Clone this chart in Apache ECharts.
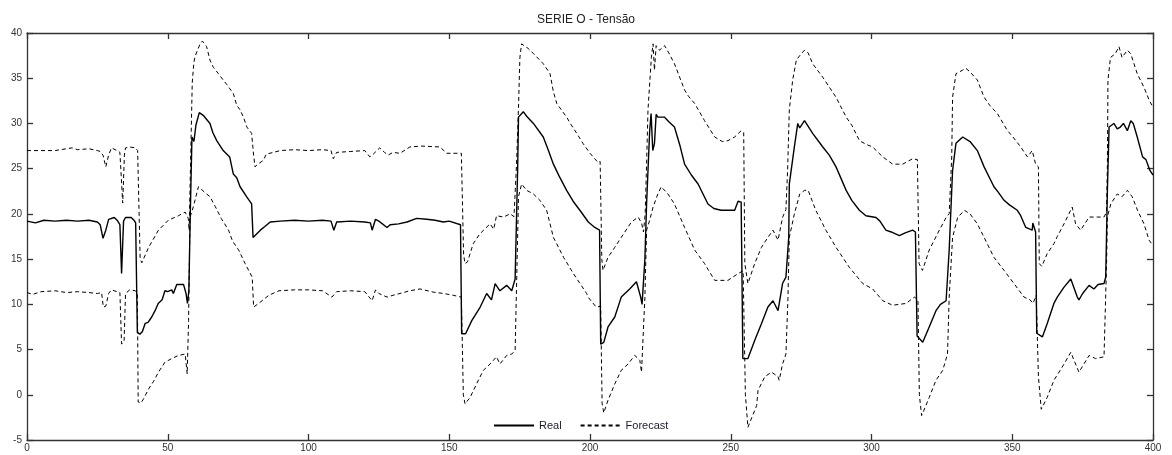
<!DOCTYPE html>
<html>
<head>
<meta charset="utf-8">
<script src="https://cdn.jsdelivr.net/npm/echarts@6/dist/echarts.min.js"></script>
<style>
html,body{margin:0;padding:0;background:#fff;}
#chart{width:1172px;height:455px;}
</style>
</head>
<body>
<div id="chart"></div>
<script>
const title = 'SERIE O - Tensão';
const legendLabels = ['Real', 'Forecast'];
const xTicks = {min: 0, max: 400, interval: 50};
const yTicks = {min: -5, max: 40, interval: 5};

const real = [[0,19.2],[3,19.0],[6,19.3],[10,19.2],[14,19.3],[18,19.2],[22,19.3],[25,19.1],[26,18.8],[27,17.3],[28,18.2],[29,19.4],[31,19.6],[32,19.3],[33,18.8],[33.6,13.4],[34.3,19.2],[35,19.6],[37,19.6],[38,19.3],[38.6,19.0],[39.2,6.9],[40.1,6.7],[41,7.0],[42,7.9],[43,8.0],[44.3,8.6],[45.5,9.3],[46.6,10.1],[48,10.5],[49,11.5],[50,11.4],[51.4,11.6],[52,11.2],[53.2,12.2],[55.6,12.2],[56.5,11.2],[57,10.1],[57.5,11.5],[58,20],[58.6,28.5],[59.3,28.0],[60,29.8],[61.2,31.2],[62.6,30.9],[65,30.0],[66,29.0],[67.4,28.1],[69.7,27.0],[72,26.3],[73.3,24.4],[74.5,24.0],[75.7,23.0],[78,21.9],[79.8,21.1],[80.3,17.4],[81,17.2],[82.9,18.2],[84.5,18.6],[86.4,19.1],[90,19.2],[95,19.3],[100,19.2],[105,19.3],[108,19.2],[109,18.2],[110,19.1],[115,19.2],[120,19.1],[122,19.0],[122.6,18.2],[123.8,19.4],[125,19.2],[127.9,18.5],[129,18.8],[132,18.9],[135,19.1],[138.4,19.5],[142,19.4],[145,19.3],[147.9,19.1],[150,19.2],[154,18.8],[154.4,6.75],[155.8,6.75],[158,8.2],[161,9.7],[163.3,11.2],[165,10.5],[166.3,12.3],[168,11.5],[170.4,12.1],[172.2,11.5],[173.4,12.8],[174.3,25],[174.6,30.7],[176.3,31.3],[177.5,30.8],[179.9,30.0],[183.4,28.5],[185,27.2],[187,25.5],[189,24.2],[191.7,22.6],[194,21.4],[196.4,20.4],[199.4,19.1],[201.7,18.5],[203.4,18.2],[203.8,5.6],[204.9,5.8],[206.4,7.5],[208.8,8.6],[211.1,10.8],[214.1,11.7],[216.5,12.5],[218,10.8],[218.5,10.0],[219.5,15],[220.1,21.1],[221.2,29.2],[221.7,31.1],[222.3,27.0],[222.9,27.8],[223.5,31.0],[224.1,30.7],[226.4,30.7],[228,30.2],[230,29.6],[232,27.5],[233.6,25.5],[236,24.3],[238.4,23.3],[241.9,21.1],[244,20.6],[246.6,20.4],[251.4,20.4],[252.6,21.4],[253.7,21.3],[254.3,4.0],[256.1,4.0],[258.5,6.0],[260.9,7.85],[263.2,9.7],[265,10.4],[266.8,9.3],[267.2,9.3],[268.4,12.3],[269.6,13.0],[270.6,17.4],[270.8,23.3],[272.6,27.4],[273.8,30.0],[274.5,29.5],[276.2,30.3],[279.1,28.9],[282.7,27.4],[285,26.5],[287.4,25.2],[291,22.6],[293,21.5],[295.7,20.4],[298,19.8],[301.6,19.6],[303,19.2],[305.1,18.2],[307,18.0],[309.9,17.6],[312,17.9],[314.6,18.2],[315.6,18.0],[316.2,6.5],[318.2,5.8],[320.5,7.5],[322.9,9.3],[324.5,10.0],[326.5,10.4],[327.6,16],[328.8,24.8],[330,27.8],[332.4,28.5],[335,28.0],[337.6,27.0],[340,25.2],[343.5,23.0],[345,22.4],[347.1,21.5],[349,21.0],[351.8,20.4],[353,19.8],[354.8,18.5],[357.1,18.2],[357.3,19.0],[358.3,18.0],[358.7,6.8],[360.7,6.4],[362.4,7.85],[364.8,10.1],[366,10.8],[368.4,11.9],[370.8,12.8],[373.1,10.8],[373.7,10.5],[375,11.2],[377.3,12.1],[379,11.7],[380.5,12.2],[382.6,12.3],[383.2,13],[383.8,22.6],[384.4,29.6],[386.1,30.0],[387.3,29.4],[388.4,29.6],[389.5,30.0],[390.9,29.2],[392.1,30.3],[393,30.0],[394.4,28.5],[396.3,26.3],[397.5,26.0],[398.9,24.8],[400,24.3]];

const forecastUpper = [[0,27.0],[5,27.0],[10,27.0],[16,27.3],[18,27.1],[22,27.2],[25,27.0],[26,26.9],[27,26.5],[28,25.2],[29,26.5],[30,27.3],[32,27.0],[33,26.8],[34,21.2],[34.6,26.5],[35,27.3],[36.5,27.4],[38.5,27.3],[39.3,27.0],[40.2,15.0],[40.8,14.6],[43.2,16.3],[46.7,18.2],[50.2,19.3],[53.8,19.8],[56.2,20.2],[57.3,19.5],[57.6,18.2],[58.2,27],[58.7,34.5],[59.3,36.8],[59.8,37.5],[60.3,37.3],[61.5,38.8],[62.3,39.1],[63.8,38.5],[65,37.0],[66.2,36.2],[68,35.5],[69.7,34.8],[71,34.3],[73.3,33.3],[74.5,32.0],[75.7,31.5],[77,30.6],[78.1,29.6],[79.8,28.9],[80.5,26.5],[81,25.2],[82,25.5],[83.9,25.9],[85,26.6],[87.5,26.8],[90,27.0],[95,27.1],[100,27.0],[105,27.1],[108,27.0],[108.8,26.1],[110,26.8],[115,26.9],[120,27.0],[121.8,26.3],[123,26.6],[125.3,27.3],[127,26.8],[128.3,26.5],[130,26.8],[132.5,26.7],[136,27.4],[140,27.5],[146.7,27.4],[149.1,26.7],[154.3,26.7],[155.1,15.5],[155.6,14.5],[156.5,14.7],[158.5,16.7],[160.9,17.8],[164.5,18.9],[165.8,18.3],[166.8,19.8],[169.3,19.65],[171.6,20.0],[173,19.7],[173.9,25.5],[174.6,31.8],[175.1,37.3],[175.7,38.8],[176.3,39.0],[178,38.3],[180,37.7],[183.4,36.6],[185.8,35.5],[187,33.5],[188.2,32.2],[191.7,30.7],[193,30.0],[195.3,28.9],[197.5,27.8],[200,26.7],[202.8,25.7],[203.6,25.8],[204.2,15],[204.6,13.75],[206.4,15.2],[208.8,16.3],[211.1,17.4],[214.7,19.1],[217.1,19.65],[218.3,19.0],[219,18.0],[219.6,20],[220.1,25.5],[220.6,31.5],[221.8,37.3],[222.4,38.8],[222.9,35.9],[223.5,38.6],[224.7,38.1],[226.5,38.6],[228,37.8],[230,36.6],[233.6,33.7],[235,33.0],[237.2,32.2],[240.7,30.3],[244.3,28.5],[247,28.0],[249,28.1],[251.4,28.5],[253.7,29.2],[254.6,29.0],[255,14.5],[256.1,12.3],[258.5,14.5],[260.9,16.3],[263.2,17.4],[265,18.2],[266.8,17.1],[267.5,17.1],[268.4,19.6],[269.6,20.5],[270.2,24.8],[270.8,31.5],[272,34.8],[273.3,37.0],[274.5,37.5],[276.2,38.1],[277.5,37.8],[279.1,36.6],[282.7,35.1],[287.4,32.9],[291,30.7],[293,29.8],[295.7,28.1],[298,27.7],[300.4,27.4],[304,26.3],[307.5,25.5],[311.1,25.5],[314.6,26.1],[316.3,26.0],[316.9,14.5],[318.1,13.75],[320.5,16.0],[324.1,18.2],[326.5,19.6],[327.6,20.0],[328.5,26.3],[328.8,32.9],[330,35.5],[332.4,35.9],[333.5,36.1],[335,35.7],[337.6,34.8],[340,32.9],[342,32.0],[344.7,31.1],[348.3,29.2],[350,28.6],[353,27.4],[355.4,26.3],[357.1,27.0],[358.3,25.5],[359.3,25.2],[359.6,14.5],[360.5,14.2],[362.4,15.6],[364.8,16.7],[366,17.5],[368.4,18.9],[371.3,20.75],[372.5,18.9],[374.3,18.2],[377.3,19.65],[380.2,19.65],[382.6,19.65],[383.5,20.2],[383.8,25.5],[384,34.8],[384.9,37.3],[386.6,37.7],[387.9,38.5],[389,37.3],[390.9,38.1],[392.1,37.7],[394.4,35.5],[396.8,34.0],[398.6,32.6],[400,31.8]];

const forecastLower = [[0,11.3],[2,11.1],[5,11.4],[10,11.5],[14,11.3],[18,11.4],[22,11.3],[25,11.2],[26.5,11.3],[27.1,9.7],[28,9.8],[29,11.2],[30,11.6],[32,11.4],[33,11.3],[33.6,5.6],[34.5,6.0],[35,11.2],[36.5,11.6],[38.5,11.5],[39.2,11.2],[39.5,-0.8],[40.5,-0.9],[41.5,-0.4],[43.2,0.65],[45,1.5],[46.7,2.5],[49,3.6],[51.4,4.0],[53.8,4.35],[56.2,4.5],[56.9,2.3],[57.4,8.2],[57.9,19.6],[59.1,20.8],[60.9,23.0],[61.5,23.2],[63.8,22.2],[65,21.9],[65.7,22.0],[66.9,20.8],[69,19.5],[71.6,18.2],[73,17.0],[75.2,16.0],[77.5,14.5],[80,13.0],[80.5,9.7],[81,9.5],[82.3,10.1],[85.9,11.0],[89.5,11.5],[95,11.6],[100,11.6],[105,11.5],[108.3,10.8],[110,11.4],[115,11.5],[120,11.4],[122.6,10.4],[123.8,11.6],[125,11.2],[127.9,10.8],[130,11.0],[132.5,11.2],[136,11.5],[139.6,11.7],[144.3,11.35],[148,11.2],[151.4,11.0],[154.3,10.8],[155,0],[155.6,-1.0],[156.2,-1.2],[157.4,-0.3],[159.7,1.2],[162.1,2.7],[164.5,3.4],[166.8,4.2],[168,3.4],[170.4,4.35],[172.2,4.5],[173.4,4.9],[173.9,11.9],[174.6,21.9],[175.7,23.3],[177.5,22.6],[179.9,22.2],[182.2,21.5],[184.6,20.4],[187,17.4],[190.6,15.2],[194.1,13.4],[198.8,11.2],[199.3,10.8],[202.2,9.7],[203.8,9.8],[204.3,-1.0],[204.9,-2.0],[206.4,-0.6],[208.8,1.2],[211.1,2.7],[213.5,3.4],[215.9,4.35],[217.7,3.8],[218.3,2.5],[219.5,10.8],[220.1,18.2],[221.2,19.3],[222.4,20.75],[224.1,22.2],[225.3,23.0],[227.7,22.2],[230,21.1],[233.6,18.5],[237.2,16.0],[240.7,14.5],[244.3,12.65],[249,12.65],[252.6,13.4],[254.4,13.7],[255.2,0],[256.1,-3.6],[257.5,-2.5],[259.2,-1.2],[259.7,0.5],[262.1,2.0],[264.5,2.5],[266.8,2.0],[267.2,1.6],[268.4,3.4],[269.6,4.5],[270.3,10.5],[270.8,17.4],[272.6,20.0],[274.5,22.2],[276.2,22.6],[277.5,22.6],[280.2,20.4],[283.8,18.2],[287.4,16.3],[292.1,14.1],[296.9,12.3],[300.4,11.7],[304,10.4],[307.5,9.9],[312.3,10.1],[315.2,10.8],[316.5,10.5],[317,0],[317.8,-2.3],[318.5,-1.8],[320.5,-0.3],[322.9,1.6],[325.3,2.7],[327,4.5],[327.6,10.8],[328.8,17.4],[330.6,19.6],[333,20.4],[335,20.0],[337.6,18.9],[340,17.4],[343.5,15.2],[347.1,13.75],[350.6,12.3],[354.2,10.8],[356.3,10.5],[357.4,10.1],[358.5,11.0],[359.3,2],[360.3,-1.6],[362.4,-0.3],[364.8,1.6],[368.4,3.4],[370.8,4.7],[372.5,3.4],[373.7,2.5],[377.3,4.35],[379.6,4.0],[382.6,4.2],[383.5,14.5],[383.8,19.65],[385,21.1],[387.3,22.2],[389,21.9],[390.9,22.6],[392.6,21.9],[394.5,20.4],[396.8,18.9],[398.6,17.1],[400,16.5]];

const chart = echarts.init(document.getElementById('chart'), null, {renderer: 'canvas'});
const font = 'Liberation Sans, Arial, sans-serif';
function axisLine() { return {show: true, onZero: false, lineStyle: {color: '#333', width: 1.3}}; }
function tick() { return {show: true, inside: true, length: 6, lineStyle: {color: '#333', width: 1.3}}; }

const option = {
  animation: false,
  backgroundColor: '#ffffff',
  title: {
    text: title, left: 'center', top: 9,
    textStyle: {fontFamily: font, fontSize: 12, fontWeight: 'normal', color: '#222'}
  },
  legend: {
    data: [legendLabels[0], legendLabels[1]],
    left: 488, top: 415,
    itemWidth: 40, itemHeight: 10, itemGap: 18,
    itemStyle: {opacity: 0},
    textStyle: {fontFamily: font, fontSize: 11, color: '#1a1a2a'}
  },
  grid: {left: 27, right: 19, top: 33, bottom: 15, containLabel: false},
  xAxis: [
    {
      type: 'value', min: xTicks.min, max: xTicks.max, interval: xTicks.interval, position: 'bottom',
      axisLine: axisLine(), axisTick: tick(), splitLine: {show: false},
      axisLabel: {fontFamily: font, fontSize: 10, color: '#333', margin: 3}
    },
    {
      type: 'value', min: xTicks.min, max: xTicks.max, interval: xTicks.interval, position: 'top',
      axisLine: axisLine(), axisTick: tick(), splitLine: {show: false},
      axisLabel: {show: false}
    }
  ],
  yAxis: [
    {
      type: 'value', min: yTicks.min, max: yTicks.max, interval: yTicks.interval, position: 'left',
      axisLine: axisLine(), axisTick: tick(), splitLine: {show: false},
      axisLabel: {fontFamily: font, fontSize: 10, color: '#333', margin: 5}
    },
    {
      type: 'value', min: yTicks.min, max: yTicks.max, interval: yTicks.interval, position: 'right',
      axisLine: axisLine(), axisTick: tick(), splitLine: {show: false},
      axisLabel: {show: false}
    }
  ],
  series: [
    {
      name: legendLabels[0], type: 'line', data: real, xAxisIndex: 0, yAxisIndex: 0,
      showSymbol: false, symbol: 'none',
      lineStyle: {color: '#000', width: 1.4}, itemStyle: {color: '#000'}, z: 3
    },
    {
      name: legendLabels[1], type: 'line', data: forecastUpper, xAxisIndex: 0, yAxisIndex: 0,
      showSymbol: false, symbol: 'none',
      lineStyle: {color: '#000', width: 1, type: [4, 3]}, itemStyle: {color: '#000'}, z: 2
    },
    {
      name: legendLabels[1], type: 'line', data: forecastLower, xAxisIndex: 0, yAxisIndex: 0,
      showSymbol: false, symbol: 'none',
      lineStyle: {color: '#000', width: 1, type: [4, 3]}, itemStyle: {color: '#000'}, z: 2
    }
  ]
};
chart.setOption(option);
</script>
</body>
</html>
